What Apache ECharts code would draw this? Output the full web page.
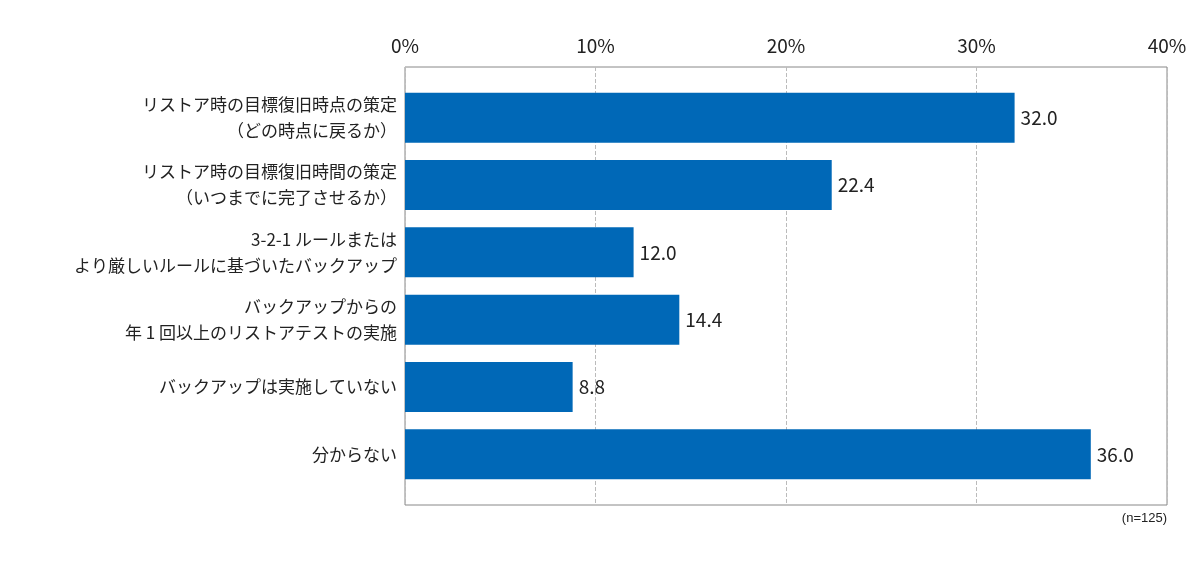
<!DOCTYPE html>
<html><head><meta charset="utf-8">
<script src="https://cdn.jsdelivr.net/npm/echarts@6/dist/echarts.min.js"></script>
<style>body{margin:0}#c{width:1200px;height:565px}</style>
</head><body><div id="c"></div>
<script>
var categories = [
  "リストア時の目標復旧時点の策定\n（どの時点に戻るか）",
  "リストア時の目標復旧時間の策定\n（いつまでに完了させるか）",
  "3-2-1 ルールまたは\nより厳しいルールに基づいたバックアップ",
  "バックアップからの\n年 1 回以上のリストアテストの実施",
  "バックアップは実施していない",
  "分からない"
];
var values = [32.0, 22.4, 12.0, 14.4, 8.8, 36.0];
var axisTicks = [0, 10, 20, 30, 40];

var chart = echarts.init(document.getElementById('c'));
var font = '"Noto Sans CJK JP", sans-serif';
chart.setOption({
  animation: false,
  textStyle: {fontFamily: font},
  grid: [
    {left: 405, right: 33, top: 67, bottom: 60, show: true, borderColor: '#888', borderWidth: 1},
    {left: 405, right: 33, top: 84, bottom: 77}
  ],
  xAxis: [{
    gridIndex: 0, type: 'value', position: 'top', min: axisTicks[0], max: axisTicks[axisTicks.length-1], interval: 10,
    axisLabel: {formatter: '{value}%', fontSize: 19, color: '#222', margin: 12, fontFamily: font},
    axisLine: {show: false}, axisTick: {show: false},
    splitLine: {show: true, lineStyle: {type: 'dashed', color: '#bbb'}}
  }, {
    gridIndex: 1, type: 'value', min: 0, max: 40, show: false
  }],
  yAxis: [{
    gridIndex: 0, type: 'category', show: false, data: ['']
  }, {
    gridIndex: 1, type: 'category', inverse: true, data: categories,
    axisLine: {show: false}, axisTick: {show: false},
    axisLabel: {fontSize: 17, color: '#222', lineHeight: 26, align: 'right', margin: 8, fontFamily: font}
  }],
  series: [{
    type: 'bar', xAxisIndex: 1, yAxisIndex: 1, data: values, barWidth: 50,
    itemStyle: {color: '#0068b7'},
    label: {show: true, position: 'right', fontSize: 19, color: '#222', distance: 6,
      formatter: function(p){ return p.value.toFixed(1); }, fontFamily: font}
  }],
  graphic: [{type: 'text', right: 33, top: 512, style: {text: '(n=125)', fontSize: 13, fill: '#222', font: '13px ' + font}}]
});
</script></body></html>
